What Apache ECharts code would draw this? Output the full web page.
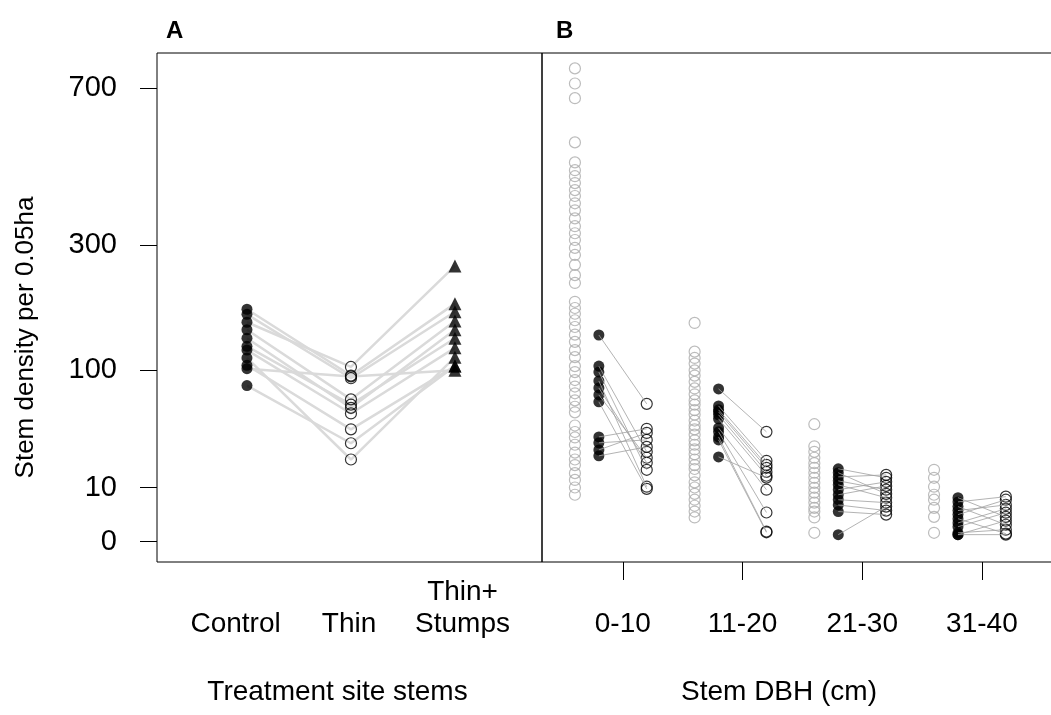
<!DOCTYPE html>
<html>
<head>
<meta charset="utf-8">
<script src="https://cdn.jsdelivr.net/npm/echarts@6/dist/echarts.min.js"></script>
<style>
  html, body { margin: 0; padding: 0; background: #fff; }
  #main { width: 1051px; height: 715px; }
</style>
</head>
<body>
<div id="main"></div>
<script>
// Panel A: stems per site, one value per site in each treatment
const treatments = ["Control", "Thin", "Thin+\nStumps"];
const controlStems = [184, 176, 164, 153, 141, 130, 125, 115, 106, 102, 83];
const thinStems = [94, 91, 104, 69, 61, 64, 56, 23, 43, 93, 33];
const stumpStems = [193, 180, 259, 166, 153, 141, 128, 116, 105, 100, 105];

// Panel B: DBH classes
const dbhClasses = ["0-10", "11-20", "21-30", "31-40"];
// grey: reference plots
const ref0_10 = [763, 715, 670, 543, 490, 470, 455, 438, 421, 407, 390, 374, 356, 339, 324, 310, 294, 280, 261, 242, 228, 196, 186, 177, 167, 157, 146, 136, 125, 116, 105, 98, 89, 82, 75, 68, 62, 57, 46, 41, 37, 32, 27, 23, 20, 16, 13, 10, 7.5];
const ref11_20 = [163, 123, 115, 108, 100, 94, 87, 80, 74, 68, 64, 59, 55, 50, 46, 43, 39, 35, 32, 29, 26, 23, 20, 18, 15, 12, 10, 7.8, 6, 4.4, 3.1, 2];
const ref21_30 = [47, 31, 27.5, 24, 21, 18.6, 16.2, 13.9, 11.8, 9.9, 8.2, 6.6, 5.2, 3.9, 3.1, 2, 0.27];
const ref31_40 = [17.6, 13.9, 10.3, 7.5, 6, 3.9, 2.1, 0.27];
// filled black: before thinning, open black: after thinning (same site order)
const pre0_10 = [145.5, 105, 98, 88, 80.5, 73.4, 66.6, 37.4, 33.3, 28.7, 25.1];
const post0_10 = [64.7, 27.5, 17.6, 10.3, 21.2, 24, 9.5, 43.4, 35.3, 40.3, 30.6];
const pre11_20 = [79.5, 62.8, 59.2, 57.4, 54.8, 51.4, 44.1, 41.1, 37.4, 35.3, 24.5];
const post11_20 = [41.1, 22.3, 20.1, 18.6, 16.6, 14.8, 9.2, 2.9, 0.35, 0.3, 14];
const pre21_30 = [18.1, 16.2, 14.3, 12.6, 11, 9.2, 7.5, 6, 4.6, 3.1, 0.17];
const post21_30 = [13.9, 7.8, 15.2, 9.2, 6.6, 12.2, 10.6, 5.2, 3.3, 2.5, 4.2];
const pre31_40 = [6.6, 5.4, 4.2, 3.3, 2.5, 1.8, 1.2, 0.76, 0.27, 0.17, 0.17];
const post31_40 = [2.1, 6.9, 0.98, 4.6, 6, 0.22, 3.7, 2.86, 0.49, 1.5, 0.17];

const yTicks = [0, 10, 100, 300, 700];

const refGroups = [ref0_10, ref11_20, ref21_30, ref31_40];
const preGroups = [pre0_10, pre11_20, pre21_30, pre31_40];
const postGroups = [post0_10, post11_20, post21_30, post31_40];

// y axis is square-root scaled
const tr = (v) => Math.sqrt(v);
const font = "Liberation Sans, Arial, sans-serif";
const fs = 28;
const yMin = -1.185, yMax = 28.52;

const series = [];

// panel A lines
controlStems.forEach((c, i) => {
  series.push({
    type: "line",
    xAxisIndex: 1,
    yAxisIndex: 0,
    data: [[1, tr(c)], [2, tr(thinStems[i])], [3, tr(stumpStems[i])]],
    symbol: "none",
    silent: true,
    z: 1,
    lineStyle: { color: "#dadada", width: 2.5 },
  });
});
series.push({
  type: "scatter", xAxisIndex: 1, yAxisIndex: 0, z: 3, silent: true,
  symbol: "circle", symbolSize: 11,
  itemStyle: { color: "#000" },
  data: controlStems.map((v) => [1, tr(v)]),
});
series.push({
  type: "scatter", xAxisIndex: 1, yAxisIndex: 0, z: 3, silent: true,
  symbol: "circle", symbolSize: 11,
  itemStyle: { color: "rgba(0,0,0,0)", borderColor: "#000", borderWidth: 1.2 },
  data: thinStems.map((v) => [2, tr(v)]),
});
series.push({
  type: "scatter", xAxisIndex: 1, yAxisIndex: 0, z: 3, silent: true,
  symbol: "triangle", symbolSize: 13,
  itemStyle: { color: "#000" },
  data: stumpStems.map((v) => [3, tr(v)]),
});

// panel B: grey reference, then black pre/post with lines on top
const offRef = -0.4, offPre = -0.2, offPost = 0.2;
refGroups.forEach((arr, g) => {
  series.push({
    type: "scatter", xAxisIndex: 2, yAxisIndex: 1, z: 2, silent: true,
    symbol: "circle", symbolSize: 11,
    itemStyle: { color: "rgba(0,0,0,0)", borderColor: "#ababab", borderWidth: 1.2 },
    data: arr.map((v) => [g + 1 + offRef, tr(v)]),
  });
});
preGroups.forEach((arr, g) => {
  series.push({
    type: "scatter", xAxisIndex: 2, yAxisIndex: 1, z: 2, silent: true,
    symbol: "circle", symbolSize: 11,
    itemStyle: { color: "#000" },
    data: arr.map((v) => [g + 1 + offPre, tr(v)]),
  });
  series.push({
    type: "scatter", xAxisIndex: 2, yAxisIndex: 1, z: 2, silent: true,
    symbol: "circle", symbolSize: 11,
    itemStyle: { color: "rgba(0,0,0,0)", borderColor: "#000", borderWidth: 1.2 },
    data: postGroups[g].map((v) => [g + 1 + offPost, tr(v)]),
  });
  arr.forEach((v, i) => {
    series.push({
      type: "line", xAxisIndex: 2, yAxisIndex: 1, z: 4, silent: true,
      symbol: "none",
      lineStyle: { color: "#a0a0a0", width: 0.8 },
      data: [[g + 1 + offPre, tr(v)], [g + 1 + offPost, tr(postGroups[g][i])]],
    });
  });
});

const option = {
  animation: false,
  backgroundColor: "#fff",
  textStyle: { fontFamily: font },
  title: [
    { text: "A", left: 161, top: 14, textStyle: { fontSize: 24, fontWeight: "bold", color: "#000", fontFamily: font } },
    { text: "B", left: 551, top: 14, textStyle: { fontSize: 24, fontWeight: "bold", color: "#000", fontFamily: font } },
  ],
  grid: [
    { left: 157, top: 53, width: 385, height: 509, show: true, borderColor: "#000", borderWidth: 1, backgroundColor: "transparent", outerBoundsMode: "none" },
    { left: 542, top: 53, width: 520, height: 509, show: true, borderColor: "#000", borderWidth: 1, backgroundColor: "transparent", outerBoundsMode: "none" },
  ],
  xAxis: [
    {
      // labels for panel A
      gridIndex: 0, type: "value", min: 0.308, max: 3.7,
      name: "Treatment site stems", nameLocation: "middle", nameGap: 116,
      nameTextStyle: { fontSize: fs, color: "#000", padding: [0, 24, 0, 0] },
      axisLine: { show: false, onZero: false }, axisTick: { show: false }, splitLine: { show: false },
      axisLabel: {
        customValues: [1, 2, 3],
        formatter: (v) => treatments[Math.round(v) - 1],
        fontSize: fs, color: "#000", lineHeight: 32,
        verticalAlign: "bottom", margin: 78,
      },
    },
    {
      // point positions for panel A
      gridIndex: 0, type: "value", min: 0.135, max: 3.837, show: false,
      axisLine: { onZero: false },
    },
    {
      gridIndex: 1, type: "value", min: 0.325, max: 4.669,
      name: "Stem DBH (cm)", nameLocation: "middle", nameGap: 116,
      nameTextStyle: { fontSize: fs, color: "#000", padding: [0, 46, 0, 0] },
      axisLine: { show: false, onZero: false }, splitLine: { show: false },
      axisTick: { customValues: [1, 2, 3, 4], length: 18, lineStyle: { color: "#000" } },
      axisLabel: {
        customValues: [1, 2, 3, 4],
        formatter: (v) => dbhClasses[Math.round(v) - 1],
        fontSize: fs, color: "#000", lineHeight: 32,
        verticalAlign: "bottom", margin: 78,
      },
    },
  ],
  yAxis: [
    {
      gridIndex: 0, type: "value", min: yMin, max: yMax,
      name: "Stem density per 0.05ha", nameLocation: "middle", nameGap: 118,
      nameTextStyle: { fontSize: 26, color: "#000", padding: [0, 60, 0, 0] },
      axisLine: { show: false, onZero: false }, splitLine: { show: false },
      axisTick: { customValues: yTicks.map(tr), length: 17, lineStyle: { color: "#000" } },
      axisLabel: {
        customValues: yTicks.map(tr),
        formatter: (v) => String(Math.round(v * v)),
        fontSize: 29, color: "#000", margin: 40,
      },
    },
    { gridIndex: 1, type: "value", min: yMin, max: yMax, show: false, axisLine: { onZero: false } },
  ],
  series: series,
};

const chart = echarts.init(document.getElementById("main"), null, { renderer: "canvas" });
chart.setOption(option);
</script>
</body>
</html>
